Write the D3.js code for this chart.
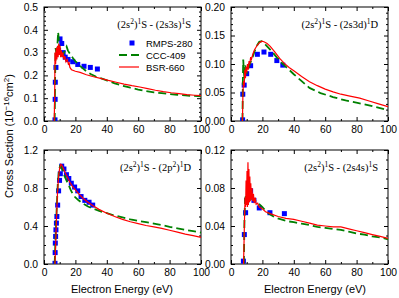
<!DOCTYPE html>
<html><head><meta charset="utf-8">
<script src="https://cdn.jsdelivr.net/npm/d3@7"></script>
<style>body{margin:0;background:#fff}</style></head>
<body><svg id="c" width="399" height="298"></svg>
<script>
// ---------- data (Energy eV, cross section 1e-16 cm^2) ----------
const xMajor = [0, 20, 40, 60, 80, 100];
const xMinor = [10, 30, 50, 70, 90];

const rmps1 = [[7.0,0.005],[7.1,0.095],[7.2,0.17],[7.6,0.235],[9.3,0.31],[10.2,0.36],[11.3,0.34],[12.2,0.30],[13.5,0.28],[15.3,0.27],[18.3,0.26],[21.5,0.248],[25.5,0.24],[29.5,0.235],[34,0.228]];
const ccc1 = [[6.8,0],[7.1,0.2],[7.4,0.32],[7.8,0.3],[8.2,0.28],[8.6,0.34],[9.0,0.39],[9.4,0.36],[9.9,0.31],[10.5,0.29],[11.2,0.3],[12,0.29],[12.8,0.3],[13.6,0.315],[14.4,0.326],[15.2,0.31],[16,0.3],[17,0.29],[18.5,0.275],[20,0.262],[22,0.248],[24,0.235],[27,0.218],[30,0.205],[33,0.195],[36,0.188],[40,0.178],[45,0.165],[50,0.155],[55,0.146],[60,0.138],[65,0.131],[70,0.126],[75,0.122],[80,0.118],[85,0.115],[90,0.112],[95,0.11],[100,0.108]];
const bsr1 = [[6.5,0],[6.8,0.1],[7.0,0.3],[7.4,0.25],[7.8,0.32],[8.2,0.27],[8.6,0.33],[9.0,0.28],[9.4,0.34],[9.8,0.29],[10.2,0.33],[10.6,0.28],[11.0,0.31],[11.5,0.28],[12.0,0.30],[12.6,0.27],[13.2,0.285],[14.0,0.26],[14.8,0.27],[15.5,0.25],[16.0,0.255],[16.5,0.235],[17.5,0.225],[20,0.218],[23,0.213],[27,0.203],[31,0.195],[36,0.187],[41,0.178],[46,0.17],[51,0.162],[56,0.155],[61,0.149],[66,0.142],[71,0.135],[76,0.129],[81,0.124],[86,0.12],[91,0.116],[96,0.113],[100,0.111]];

const rmps2 = [[7.4,0.002],[7.5,0.047],[8.4,0.063],[10.0,0.083],[12.5,0.097],[16.8,0.117],[21,0.121],[25.3,0.117],[29.2,0.106],[33,0.098]];
const ccc2 = [[7.3,0],[7.6,0.08],[7.8,0.108],[8.2,0.085],[8.6,0.075],[9,0.1],[9.5,0.088],[10.2,0.085],[11,0.092],[12,0.1],[13.5,0.11],[15,0.122],[16.5,0.132],[18,0.139],[19.5,0.14],[21,0.137],[23,0.131],[26,0.122],[29,0.112],[32,0.103],[35,0.095],[40,0.082],[45,0.07],[50,0.058],[57,0.049],[65,0.042],[73,0.036],[82,0.031],[90,0.026],[100,0.019]];
const bsr2 = [[7.3,0],[7.6,0.05],[8.0,0.07],[8.4,0.06],[8.8,0.09],[9.2,0.075],[9.6,0.095],[10,0.085],[10.5,0.1],[11,0.09],[11.5,0.105],[12,0.1],[12.5,0.112],[13,0.108],[14,0.118],[15,0.125],[16.5,0.132],[18,0.137],[19.5,0.14],[21,0.139],[23,0.136],[25,0.131],[28,0.121],[31,0.11],[34,0.101],[37,0.094],[40,0.088],[45,0.078],[50,0.069],[55,0.062],[60,0.056],[65,0.051],[70,0.047],[75,0.044],[82,0.04],[88,0.035],[94,0.03],[100,0.025]];

const rmps3 = [[7.0,0.007],[7.1,0.12],[7.2,0.22],[7.4,0.29],[7.6,0.36],[7.9,0.43],[8.2,0.5],[8.7,0.62],[9.3,0.77],[9.9,0.88],[10.4,0.95],[11.3,1.03],[12.7,1.0],[14.3,0.94],[15.8,0.9],[17.4,0.85],[19.5,0.81],[21.5,0.77],[23.6,0.71],[26,0.67],[28.7,0.65],[31,0.62]];
const ccc3 = [[6.8,0],[7.4,0.3],[8,0.55],[8.8,0.85],[9.5,0.98],[10.2,1.03],[11,1.02],[12,0.98],[13,0.93],[14,0.89],[15.5,0.84],[17,0.78],[18.5,0.73],[20,0.7],[22,0.67],[25,0.635],[28,0.605],[32,0.578],[36,0.555],[40,0.535],[45,0.51],[50,0.49],[55,0.47],[60,0.455],[65,0.44],[70,0.425],[75,0.41],[80,0.39],[85,0.375],[90,0.36],[95,0.345],[100,0.33]];
const bsr3 = [[7.0,0],[7.5,0.25],[8,0.5],[8.6,0.75],[9.3,0.93],[10,1.01],[10.7,1.05],[11.4,1.04],[12.2,1.01],[13.5,0.96],[15,0.91],[16.5,0.86],[18,0.82],[20,0.78],[22,0.74],[25,0.69],[28,0.65],[31,0.615],[35,0.575],[40,0.535],[45,0.5],[50,0.47],[55,0.445],[60,0.425],[65,0.405],[70,0.39],[75,0.375],[80,0.355],[85,0.335],[90,0.315],[95,0.298],[100,0.28]];

const rmps4 = [[7.9,0.003],[8.5,0.031],[9.3,0.054],[10,0.067],[11.7,0.077],[12.5,0.077],[14.6,0.067],[18,0.059],[24.8,0.054],[34,0.053]];
const ccc4 = [[8.2,0],[8.6,0.05],[9,0.068],[9.5,0.072],[10.5,0.071],[12,0.07],[14,0.068],[16,0.066],[18,0.063],[20,0.06],[22,0.056],[25,0.052],[28,0.049],[32,0.047],[36,0.045],[40,0.044],[45,0.0425],[50,0.041],[55,0.039],[60,0.038],[65,0.037],[70,0.036],[75,0.034],[80,0.032],[85,0.031],[90,0.029],[95,0.028],[100,0.026]];
const bsr4 = [[8,0],[8.4,0.03],[8.7,0.055],[9,0.07],[9.3,0.06],[9.6,0.088],[9.9,0.062],[10.2,0.098],[10.5,0.06],[10.8,0.107],[11.1,0.062],[11.4,0.1],[11.7,0.065],[12,0.092],[12.3,0.066],[12.6,0.085],[13,0.068],[13.4,0.08],[13.8,0.066],[14.3,0.074],[14.8,0.064],[15.4,0.07],[16,0.063],[17,0.064],[18,0.06],[20,0.058],[22,0.055],[25,0.053],[30,0.05],[35,0.048],[40,0.047],[45,0.045],[50,0.043],[55,0.041],[60,0.04],[65,0.039],[70,0.039],[75,0.037],[80,0.035],[85,0.033],[90,0.031],[95,0.029],[100,0.027]];

const yMajor1 = [0,0.1,0.2,0.3,0.4,0.5];
const yMinor1 = [0.02,0.04,0.06,0.08,0.12,0.14,0.16,0.18,0.22,0.24,0.26,0.28,0.32,0.34,0.36,0.38,0.42,0.44,0.46,0.48];
const yMajor2 = [0,0.05,0.1,0.15,0.2];
const yMinor2 = [0.01,0.02,0.03,0.04,0.06,0.07,0.08,0.09,0.11,0.12,0.13,0.14,0.16,0.17,0.18,0.19];
const yMajor3 = [0,0.4,0.8,1.2];
const yMinor3 = [0.1,0.2,0.3,0.5,0.6,0.7,0.9,1.0,1.1];
const yMajor4 = [0,0.04,0.08,0.12];
const yMinor4 = [0.01,0.02,0.03,0.05,0.06,0.07,0.09,0.1,0.11];

const legendNames = ["RMPS-280","CCC-409","BSR-660"];
const titles = [
  ["2s3s","S"], ["2s3d","D"], ["2p", "D", "2"], ["2s4s","S"]
];

// ---------- drawing ----------
const svg = d3.select("#c");
const BLUE = "#0000ff", GREEN = "#008000", RED = "#ff0000";
const sans = "'Liberation Sans', Arial, sans-serif";
const serif = "'Liberation Serif', 'Times New Roman', serif";

const panels = [
  {x0:44, x1:201, y0:7, y1:121, ymax:0.5, yMaj:yMajor1, yMin:yMinor1, fmt:d3.format(".1f"), r:rmps1, c:ccc1, b:bsr1, t:titles[0]},
  {x0:231, x1:388, y0:7, y1:121, ymax:0.2, yMaj:yMajor2, yMin:yMinor2, fmt:d3.format(".2f"), r:rmps2, c:ccc2, b:bsr2, t:titles[1]},
  {x0:44, x1:201, y0:150, y1:264, ymax:1.2, yMaj:yMajor3, yMin:yMinor3, fmt:d3.format(".1f"), r:rmps3, c:ccc3, b:bsr3, t:titles[2]},
  {x0:231, x1:388, y0:150, y1:264, ymax:0.12, yMaj:yMajor4, yMin:yMinor4, fmt:d3.format(".2f"), r:rmps4, c:ccc4, b:bsr4, t:titles[3]}
];

panels.forEach((p, i) => {
  const x = d3.scaleLinear().domain([0,100]).range([p.x0, p.x1]);
  const y = d3.scaleLinear().domain([0,p.ymax]).range([p.y1, p.y0]);
  const g = svg.append("g");
  const clipId = "clip"+i;
  svg.append("clipPath").attr("id", clipId).append("rect")
    .attr("x", p.x0).attr("y", p.y0).attr("width", p.x1-p.x0).attr("height", p.y1-p.y0);

  const styleAxis = sel => {
    sel.select(".domain").remove();
    sel.selectAll("line").attr("stroke","#000").attr("stroke-width",1);
    sel.selectAll("text").attr("font-family", sans).attr("font-size", 10.3).attr("fill","#000");
  };
  // bottom
  g.append("g").attr("transform",`translate(0,${p.y1})`)
    .call(d3.axisBottom(x).tickValues(xMajor).tickSize(-4).tickPadding(5).tickFormat(d3.format("d"))).call(styleAxis);
  g.append("g").attr("transform",`translate(0,${p.y1})`)
    .call(d3.axisBottom(x).tickValues(xMinor).tickSize(-2).tickFormat("")).call(styleAxis);
  // top
  g.append("g").attr("transform",`translate(0,${p.y0})`)
    .call(d3.axisTop(x).tickValues(xMajor).tickSize(-4).tickFormat("")).call(styleAxis);
  g.append("g").attr("transform",`translate(0,${p.y0})`)
    .call(d3.axisTop(x).tickValues(xMinor).tickSize(-2).tickFormat("")).call(styleAxis);
  // left
  g.append("g").attr("transform",`translate(${p.x0},0)`)
    .call(d3.axisLeft(y).tickValues(p.yMaj).tickSize(-4).tickPadding(6).tickFormat(p.fmt)).call(styleAxis);
  g.append("g").attr("transform",`translate(${p.x0},0)`)
    .call(d3.axisLeft(y).tickValues(p.yMin).tickSize(-2).tickFormat("")).call(styleAxis);
  // right
  g.append("g").attr("transform",`translate(${p.x1},0)`)
    .call(d3.axisRight(y).tickValues(p.yMaj).tickSize(-4).tickFormat("")).call(styleAxis);
  g.append("g").attr("transform",`translate(${p.x1},0)`)
    .call(d3.axisRight(y).tickValues(p.yMin).tickSize(-2).tickFormat("")).call(styleAxis);

  g.append("rect").attr("x",p.x0).attr("y",p.y0).attr("width",p.x1-p.x0).attr("height",p.y1-p.y0)
    .attr("fill","none").attr("stroke","#000").attr("stroke-width",1);

  const line = d3.line().x(d=>x(d[0])).y(d=>y(d[1]));
  const plot = g.append("g").attr("clip-path",`url(#${clipId})`);
  plot.selectAll("rect.pt").data(p.r).join("rect").attr("class","pt")
    .attr("x", d=>x(d[0])-2.5).attr("y", d=>y(d[1])-2.5).attr("width",5).attr("height",5).attr("fill",BLUE);
  plot.append("path").datum(p.c).attr("d",line).attr("fill","none").attr("stroke",GREEN)
    .attr("stroke-width",1.8).attr("stroke-dasharray","8,4");
  plot.append("path").datum(p.b).attr("d",line).attr("fill","none").attr("stroke",RED)
    .attr("stroke-width",1.2);

  // title
  const tx = g.append("text").attr("x", p.x1-10).attr("y", p.y0+21).attr("text-anchor","end")
    .attr("font-family", serif).attr("font-size", 10.5).attr("fill","#000");
  tx.append("tspan").text("(2s");
  tx.append("tspan").attr("dy",-4).attr("font-size",7.5).text("2");
  tx.append("tspan").attr("dy",4).text(")");
  tx.append("tspan").attr("dy",-4).attr("font-size",7.5).text("1");
  tx.append("tspan").attr("dy",4).text("S - (" + p.t[0]);
  if (p.t[2]) {
    tx.append("tspan").attr("dy",-4).attr("font-size",7.5).text(p.t[2]);
    tx.append("tspan").attr("dy",4).text(")");
  } else {
    tx.append("tspan").text(")");
  }
  tx.append("tspan").attr("dy",-4).attr("font-size",7.5).text("1");
  tx.append("tspan").attr("dy",4).text(p.t[1]);

  if (i === 0) {
    const lg = g.append("g");
    const rows = [43, 55, 67];
    lg.append("rect").attr("x",129.5).attr("y",rows[0]-2.5).attr("width",5).attr("height",5).attr("fill",BLUE);
    lg.append("line").attr("x1",119).attr("x2",139).attr("y1",rows[1]).attr("y2",rows[1])
      .attr("stroke",GREEN).attr("stroke-width",1.8).attr("stroke-dasharray","8,4");
    lg.append("line").attr("x1",119).attr("x2",139).attr("y1",rows[2]).attr("y2",rows[2])
      .attr("stroke",RED).attr("stroke-width",1.2);
    legendNames.forEach((n,k)=>{
      lg.append("text").attr("x",146).attr("y",rows[k]+3.5).attr("font-family",sans)
        .attr("font-size",9.5).attr("fill","#000").text(n);
    });
  }
});

// axis titles
const yt = svg.append("text").attr("transform","translate(13,136) rotate(-90)").attr("text-anchor","middle")
  .attr("font-family", sans).attr("font-size", 11).attr("fill","#000");
yt.append("tspan").text("Cross Section (10");
yt.append("tspan").attr("dy",-4).attr("font-size",8).text("−16");
yt.append("tspan").attr("dy",4).text("cm");
yt.append("tspan").attr("dy",-4).attr("font-size",8).text("2");
yt.append("tspan").attr("dy",4).text(")");

[[122,293],[315,293]].forEach(([cx,cy])=>{
  svg.append("text").attr("x",cx).attr("y",cy).attr("text-anchor","middle")
    .attr("font-family", sans).attr("font-size", 11).attr("fill","#000").text("Electron Energy (eV)");
});
</script></body></html>
